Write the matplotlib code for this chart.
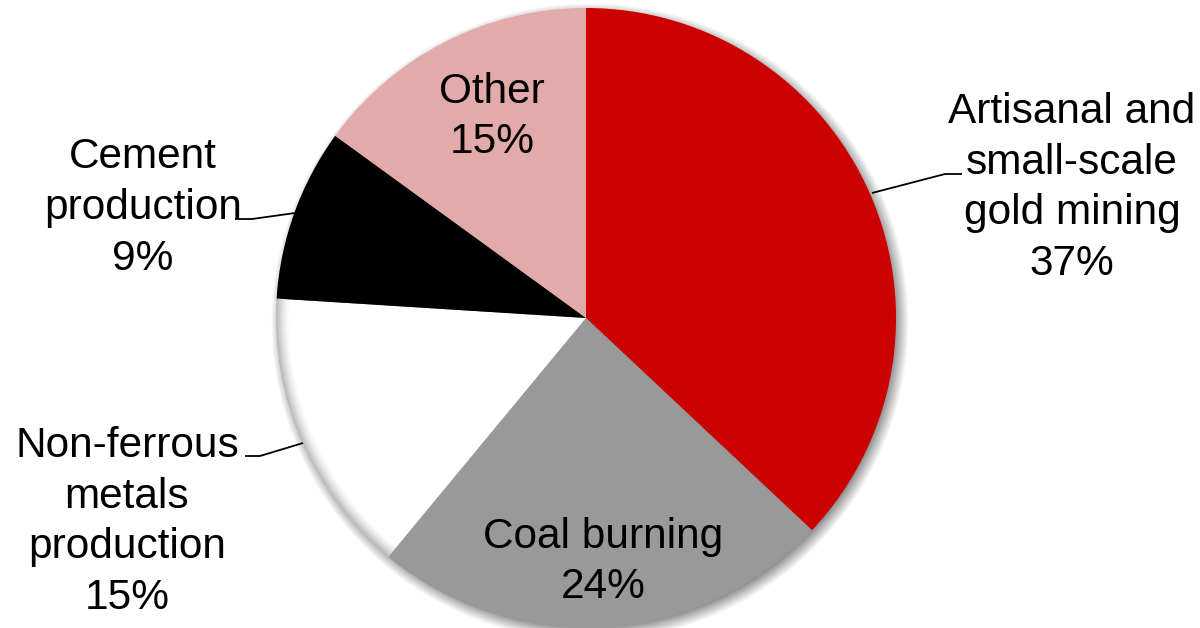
import numpy as np
import matplotlib
matplotlib.use("Agg")
import matplotlib.pyplot as plt

categories = ["Artisanal and\nsmall-scale\ngold mining", "Coal burning",
              "Non-ferrous\nmetals\nproduction", "Cement\nproduction", "Other"]
values = [37, 24, 15, 9, 15]
colors = ["#CC0000", "#999999", "#FFFFFF", "#000000", "#E3AAAA"]

W, H = 1200, 628
fig = plt.figure(figsize=(12, 6.28), dpi=100)
ax = fig.add_axes([0, 0, 1, 1])
ax.set_xlim(0, W)
ax.set_ylim(0, H)
ax.set_aspect("equal")
ax.axis("off")

cx, cy, R = 586, 310, 310

# soft drop shadow
yy, xx = np.mgrid[0:H, 0:W]
d = np.hypot(xx + 0.5 - (cx + 4), (H - yy - 0.5) - (cy - 4))
blur = 9.0
a = np.clip((R + blur - d) / (2 * blur), 0, 1) * 0.55
img = np.zeros((H, W, 4))
img[..., 3] = a
ax.imshow(img, extent=[0, W, 0, H], origin="upper", zorder=0, interpolation="bilinear")

wedges, _ = ax.pie(values, colors=colors, startangle=90, counterclock=False,
                   center=(cx, cy), radius=R, frame=True,
                   wedgeprops=dict(linewidth=0, antialiased=True))
for w in wedges:
    w.set_zorder(1)

# inner edge shading on the white wedge
r = np.hypot(xx + 0.5 - cx, (H - yy - 0.5) - cy)
ia = np.clip((r - (R - 14)) / 14, 0, 1) ** 1.5 * 0.45
inner = np.zeros((H, W, 4))
inner[..., :3] = 0.35
inner[..., 3] = ia
im2 = ax.imshow(inner, extent=[0, W, 0, H], origin="upper", zorder=2, interpolation="bilinear")
im2.set_clip_path(wedges[2])

ax.set_xlim(0, W)
ax.set_ylim(0, H)

font = dict(family="Liberation Sans", fontsize=30.5, color="black",
            ha="center", va="center", linespacing=1.35, zorder=5)
label_pos = [(1072, H - 188), (603, H - 562), (127, H - 522), (143, H - 208), (492, H - 117)]
for cat, v, (tx, ty) in zip(categories, values, label_pos):
    ax.text(tx, ty, f"{cat}\n{v}%", **font)

# leader lines (pixel coords converted to data)
leaders = [
    [(872, 193), (945, 174), (962, 174)],
    [(303, 443), (260, 456), (245, 456)],
    [(295, 213), (252, 219), (235, 219)],
]
for pts in leaders:
    xs = [p[0] for p in pts]
    ys = [H - p[1] for p in pts]
    ax.plot(xs, ys, color="black", lw=1.3, zorder=4, solid_capstyle="butt")

fig.savefig("out.png", dpi=100)
